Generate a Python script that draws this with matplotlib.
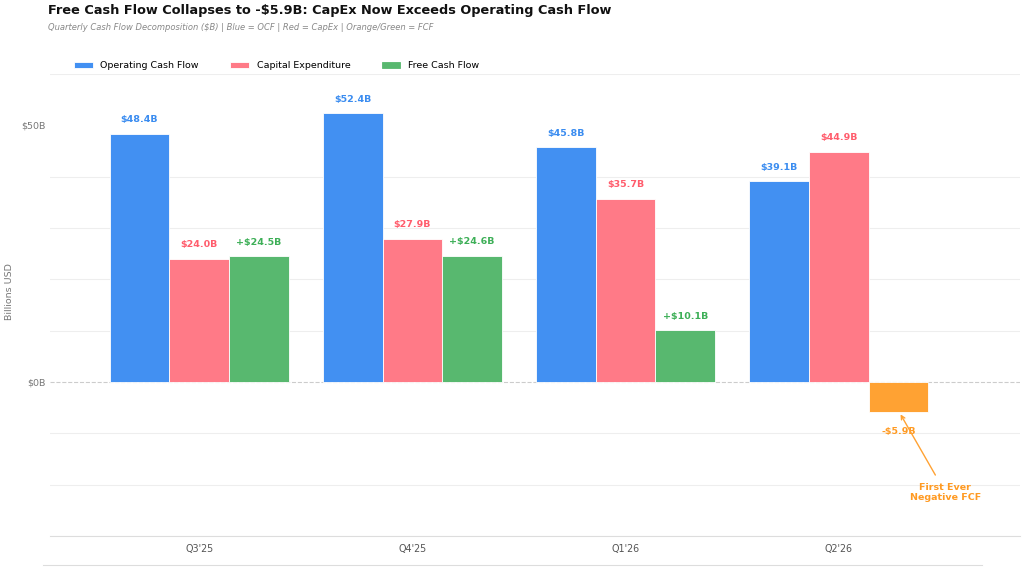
import numpy as np
import matplotlib.pyplot as plt
from matplotlib.lines import Line2D

# datos del grafico
trimestres = ["Q3'25", "Q4'25", "Q1'26", "Q2'26"]
ocf = [48.4, 52.4, 45.8, 39.1]
capex = [24.0, 27.9, 35.7, 44.9]
fcf = [24.5, 24.6, 10.1, -5.9]

azul = '#4290F2'
rojo = '#FF7A87'
verde = '#58B86F'
naranja = '#FFA233'

fig = plt.figure(figsize=(10.24, 5.67), dpi=100)
ax = fig.add_axes([0.0488, 0.0547, 0.9472, 0.8148])

x = np.arange(len(trimestres))
w = 0.28

ax.bar(x - w, ocf, w, color=azul, edgecolor='white', linewidth=0.6, label='Operating Cash Flow', zorder=3)
ax.bar(x, capex, w, color=rojo, edgecolor='white', linewidth=0.6, label='Capital Expenditure', zorder=3)
colores_fcf = [verde if v >= 0 else naranja for v in fcf]
ax.bar(x + w, fcf, w, color=colores_fcf, edgecolor='white', linewidth=0.6, label='Free Cash Flow', zorder=3)

# etiquetas de valores
tam = 6.8
for i in range(len(trimestres)):
    ax.text(x[i] - w, ocf[i] + 2.7, f'${ocf[i]:.1f}B', ha='center', va='center',
            fontsize=tam, fontweight='bold', color='#3A8CF0')
    ax.text(x[i], capex[i] + 2.7, f'${capex[i]:.1f}B', ha='center', va='center',
            fontsize=tam, fontweight='bold', color='#FF5C6C')
    if fcf[i] >= 0:
        ax.text(x[i] + w, fcf[i] + 2.7, f'+${fcf[i]:.1f}B', ha='center', va='center',
                fontsize=tam, fontweight='bold', color='#3DAF57')
    else:
        ax.text(x[i] + w, fcf[i] - 3.7, f'-${abs(fcf[i]):.1f}B', ha='center', va='center',
                fontsize=tam, fontweight='bold', color='#FF9A22')

# anotacion
ax.annotate('First Ever\nNegative FCF', xy=(x[3] + w + 0.01, fcf[3] - 0.4),
            xytext=(x[3] + 0.50, -21.5), ha='center', va='center',
            fontsize=tam, fontweight='bold', color='#FF9A22',
            arrowprops=dict(arrowstyle='->', color='#FFA233', lw=1.0, shrinkA=4, shrinkB=0))

ax.set_xlim(-0.70, 3.85)
ax.set_ylim(-30, 60)
ax.set_yticks([0, 50])
ax.set_yticklabels(['$0B', '$50B'])
ax.set_yticks(np.arange(-30, 61, 10), minor=True)
ax.grid(axis='y', which='minor', color='#EEEEEE', linewidth=0.8, zorder=0)
ax.axhline(0, color='#CCCCCC', linestyle='--', linewidth=0.8, zorder=1)
ax.tick_params(axis='y', which='both', length=0, labelsize=6.8, labelcolor='#777777', pad=3)
ax.set_xticks(x)
ax.set_xticklabels(trimestres)
ax.tick_params(axis='x', length=0, labelsize=6.9, labelcolor='#555555', pad=6)

for s in ['top', 'right', 'left']:
    ax.spines[s].set_visible(False)
ax.spines['bottom'].set_color('#DDDDDD')

fig.text(0.009, 0.485, 'Billions USD', rotation=90, fontsize=6.8, color='#777777',
         ha='center', va='center')

fig.text(0.047, 0.982, 'Free Cash Flow Collapses to -$5.9B: CapEx Now Exceeds Operating Cash Flow',
         fontsize=9.3, fontweight='bold', color='#111111', va='center')
fig.text(0.047, 0.951, 'Quarterly Cash Flow Decomposition ($B) | Blue = OCF | Red = CapEx | Orange/Green = FCF',
         fontsize=6.0, style='italic', color='#888888', va='center')

ley = fig.legend(loc='center left', bbox_to_anchor=(0.064, 0.884), ncol=3, frameon=False,
                 fontsize=6.8, handlelength=2.0, handleheight=0.7, handletextpad=0.8,
                 columnspacing=3.3)
# verde en la leyenda
ley.legend_handles[2].set_color(verde)

# linea inferior
fig.add_artist(Line2D([0.042, 0.959], [0.004, 0.004], color='#DDDDDD', linewidth=0.8))

plt.savefig('out.png', dpi=100)
